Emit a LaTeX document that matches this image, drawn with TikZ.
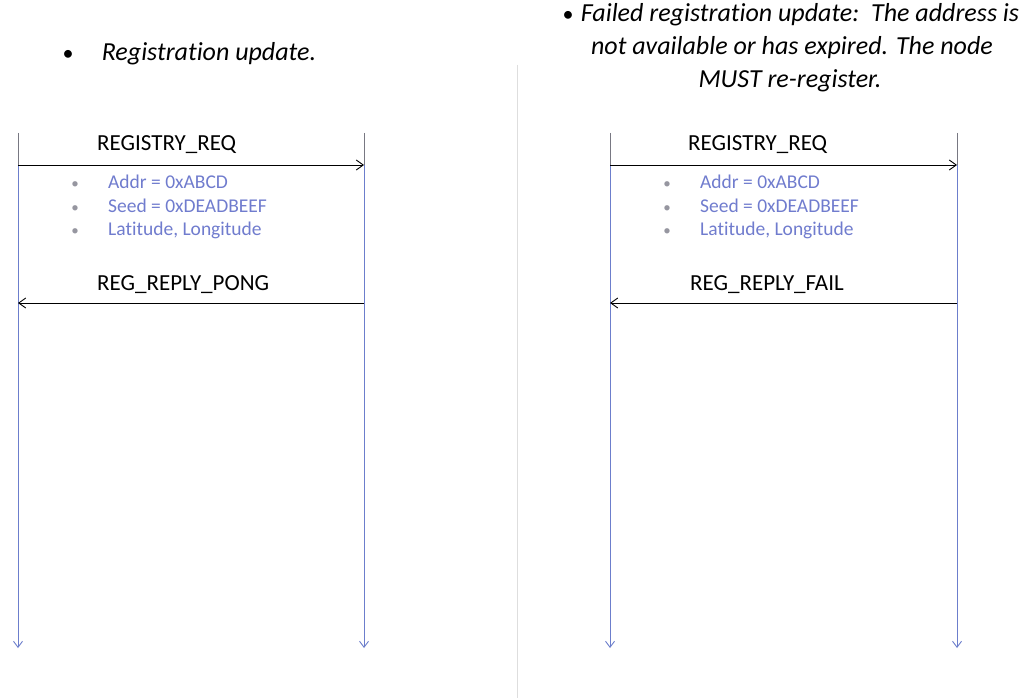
\documentclass[tikz,border=0pt]{standalone}
\usepackage{fontspec}
\setmainfont[Ligatures=NoCommon]{Carlito}
\usetikzlibrary{arrows.meta}
\definecolor{lifeblue}{RGB}{108,126,204}
\definecolor{lifegray}{RGB}{120,120,130}
\definecolor{notecol}{RGB}{112,124,206}
\definecolor{dotgray}{RGB}{150,150,160}
\definecolor{sepgray}{RGB}{222,222,222}
\begin{document}
\begin{tikzpicture}[x=1pt,y=-1pt,
  lifeline/.style={draw=lifeblue, line width=0.9pt, -{Straight Barb[length=6pt,width=9pt]}},
  lifetop/.style={draw=lifegray, line width=0.9pt},
  msg/.style={draw=black, line width=0.9pt, -{Straight Barb[length=7pt,width=10pt]}},
  msglabel/.style={font=\fontsize{23}{26}\selectfont, anchor=base west, inner sep=0pt},
  note/.style={font=\fontsize{19.5}{22}\selectfont, text=notecol, anchor=base west, inner sep=0pt},
  notedot/.style={font=\fontsize{15}{16}\selectfont, text=dotgray, anchor=base, inner sep=0pt},
  head/.style={font=\fontsize{26}{30}\selectfont\itshape, anchor=base, inner sep=0pt},
  headdot/.style={font=\fontsize{22}{26}\selectfont, anchor=base, inner sep=0pt}
]
\useasboundingbox (0,0) rectangle (1029,698);
\fill[white] (0,0) rectangle (1029,698);

% separator between the two scenarios
\coordinate (sepT) at (517,65);
\coordinate (sepB) at (517,698);
\draw[sepgray, line width=1pt] (sepT) -- (sepB);

% ---------- left scenario: successful update ----------
\node[headdot] (hdA) at (68,61) {\textbullet};
\node[head] (hA) at (209,61) {Registration update.};

\coordinate (A1t) at (18,133);  \coordinate (A1m) at (18,165);
\coordinate (A1r) at (18,303);  \coordinate (A1b) at (18,648);
\coordinate (A2t) at (364,133); \coordinate (A2m) at (364,165);
\coordinate (A2r) at (364,303); \coordinate (A2b) at (364,648);

\draw[lifetop] (A1t) -- (A1m);
\draw[lifetop] (A2t) -- (A2m);
\draw[lifeline] (A1m) -- (A1b);
\draw[lifeline] (A2m) -- (A2b);

\draw[msg] (A1m) -- (A2m);
\draw[msg] (A2r) -- (A1r);
\node[msglabel] (lA1) at (97,151) {REGISTRY\_REQ};
\node[msglabel] (lA2) at (97,290) {REG\_REPLY\_PONG};

\node[notedot] (dA1) at (75,189) {\textbullet};
\node[notedot] (dA2) at (75,213) {\textbullet};
\node[notedot] (dA3) at (75,236) {\textbullet};
\node[note] (nA1) at (108,189) {Addr = 0xABCD};
\node[note] (nA2) at (108,213) {Seed = 0xDEADBEEF};
\node[note] (nA3) at (108,236) {Latitude, Longitude};

% ---------- right scenario: failed update ----------
\node[headdot] (hdB) at (568,22) {\textbullet};
\node[head] (hB1) at (800,22) {Failed registration update:\ \ The address is};
\node[head] (hB2) at (792,55) {not available or has expired. The node};
\node[head] (hB3) at (790,88) {MUST re-register.};

\coordinate (B1t) at (610,133); \coordinate (B1m) at (610,165);
\coordinate (B1r) at (610,303); \coordinate (B1b) at (610,648);
\coordinate (B2t) at (957,133); \coordinate (B2m) at (957,165);
\coordinate (B2r) at (957,303); \coordinate (B2b) at (957,648);

\draw[lifetop] (B1t) -- (B1m);
\draw[lifetop] (B2t) -- (B2m);
\draw[lifeline] (B1m) -- (B1b);
\draw[lifeline] (B2m) -- (B2b);

\draw[msg] (B1m) -- (B2m);
\draw[msg] (B2r) -- (B1r);
\node[msglabel] (lB1) at (688,151) {REGISTRY\_REQ};
\node[msglabel] (lB2) at (690,290) {REG\_REPLY\_FAIL};

\node[notedot] (dB1) at (667,189) {\textbullet};
\node[notedot] (dB2) at (667,213) {\textbullet};
\node[notedot] (dB3) at (667,236) {\textbullet};
\node[note] (nB1) at (700,189) {Addr = 0xABCD};
\node[note] (nB2) at (700,213) {Seed = 0xDEADBEEF};
\node[note] (nB3) at (700,236) {Latitude, Longitude};
\end{tikzpicture}
\end{document}
